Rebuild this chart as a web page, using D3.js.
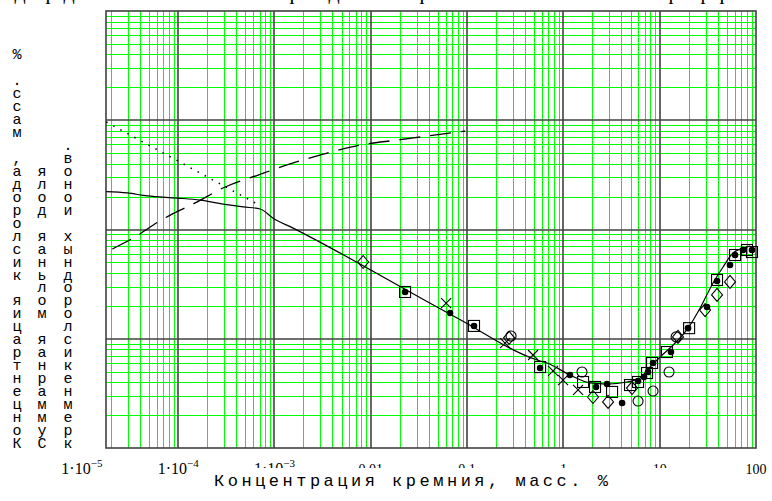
<!DOCTYPE html>
<html>
<head>
<meta charset="utf-8">
<script src="https://cdn.jsdelivr.net/npm/d3@7"></script>
<style>
  body { margin: 0; background: #fff; }
  svg { display: block; }
</style>
</head>
<body>
<svg id="chart" width="772" height="501"></svg>
<script>
// x ticks and their labels
const xTicks = [1e-5, 1e-4, 1e-3, 0.01, 0.1, 1, 10, 100]
const xTickLabels = [['1·10', '−5'], ['1·10', '−4'], ['1·10', '−3'], ['0.01'], ['0.1'], ['1'], ['10'], ['100']]

const xTitle = 'Концентрация кремния, масс. %'
const yTitles = ['Концентрация кислорода, масс. %', 'Суммарная мольная доля', 'кремнекислородных ионов.']

// solid curve
const curveSi = [1.79e-5, 2.96e-5, 4.77e-5, 9.77e-5, 1.69e-4, 2.93e-4, 4.73e-4, 7.10e-4, 9.68e-4, 1.56e-3, 0.0787, 0.533, 0.677, 1.17, 1.89, 2.84, 4.58, 6.25, 7.94, 10.1, 13.8, 19.7, 26.3, 35.8, 45.5, 57.8, 80.8, 86.8]
const curveO = [0.0222, 0.0216, 0.0203, 0.0194, 0.0186, 0.0171, 0.0161, 0.0154, 0.0127, 0.0103, 1.55e-3, 6.39e-4, 6.00e-4, 4.66e-4, 3.94e-4, 3.85e-4, 4.02e-4, 4.37e-4, 5.51e-4, 6.81e-4, 8.77e-4, 1.25e-3, 1.91e-3, 3.24e-3, 4.54e-3, 6.10e-3, 6.92e-3, 7.06e-3]

// dashed curve
const dashSi = [2.07e-5, 3.41e-5, 6.98e-5, 1.50e-4, 3.07e-4, 6.76e-4, 1.45e-3, 3.52e-3, 7.75e-3, 0.0188, 0.0394, 0.0953]
const dashFrac = [6.63e-3, 8.36e-3, 0.0125, 0.0175, 0.0245, 0.0315, 0.0398, 0.0501, 0.0593, 0.0659, 0.0718, 0.0797]

// dotted line
const dotSi = [1.79e-5, 6.29e-4]
const dotO = [0.0964, 0.0175]

// measured points [Si, O]
const diamonds = [[0.00833, 5.04e-3], [0.273, 1.02e-3], [2.03, 2.93e-4], [2.91, 2.64e-4], [5.16, 3.54e-4], [15.5, 1.04e-3], [29.6, 1.83e-3], [39.4, 2.52e-3], [53.7, 3.31e-3]]
const circles = [[0.286, 1.06e-3], [1.56, 4.96e-4], [5.96, 2.69e-4], [8.53, 3.32e-4], [12.5, 4.96e-4], [14.8, 1.04e-3]]
const squares = [[0.0227, 2.68e-3], [0.118, 1.31e-3], [0.573, 5.51e-4], [1.60, 4.02e-4], [2.13, 3.62e-4], [3.20, 3.26e-4], [4.92, 3.77e-4], [5.96, 4.02e-4], [7.39, 4.86e-4], [8.33, 6.00e-4], [11.9, 7.56e-4], [20.2, 1.25e-3], [39.4, 3.45e-3], [60.6, 5.84e-3], [80.7, 6.49e-3], [90.9, 6.22e-3]]
const filled = [[0.0227, 2.68e-3], [0.0666, 1.72e-3], [0.118, 1.31e-3], [0.573, 5.40e-4], [1.17, 4.66e-4], [2.18, 3.62e-4], [2.84, 3.85e-4], [4.07, 2.58e-4], [5.96, 4.10e-4], [6.88, 4.47e-4], [7.57, 4.96e-4], [8.53, 6.00e-4], [13.1, 7.56e-4], [19.7, 1.25e-3], [31.0, 1.95e-3], [39.4, 3.38e-3], [53.7, 4.73e-3], [60.6, 5.84e-3], [73.3, 6.49e-3], [90.9, 6.49e-3]]
const crosses = [[0.0606, 2.12e-3], [0.248, 9.14e-4], [0.484, 7.10e-4], [0.781, 5.07e-4], [0.992, 4.19e-4], [1.42, 3.40e-4]]

const plot = { left: 106, right: 756, top: 11, bottom: 448 }

const svg = d3.select('#chart')

const x = d3.scaleLog().domain([1.78e-5, 100]).range([plot.left, plot.right])
const y = d3.scaleLog().domain([1e-4, 1]).range([plot.bottom, plot.top])

// cut-off line of text above the chart: only the descenders show
const topGlyphs = [['д', 20], ['ф', 48], ['д', 69], ['ф', 292], ['д', 334], ['ф', 422], ['ф', 671], ['ф', 703], ['ф', 722]]
svg.append('g')
    .selectAll('text')
    .data(topGlyphs)
    .join('text')
    .attr('x', d => d[1])
    .attr('y', -1)
    .attr('text-anchor', 'middle')
    .style('font-family', '"Liberation Serif", serif')
    .style('font-size', '22px')
    .text(d => d[0])

// grid
const grid = svg.append('g')
const isDecade = v => Math.abs(Math.log10(v) - Math.round(Math.log10(v))) < 1e-6
const xMinor = x.ticks().filter(v => !isDecade(v))
const yMinor = y.ticks().filter(v => !isDecade(v))
const yMajor = y.ticks().filter(isDecade)

grid.selectAll('.xm')
    .data(xMinor)
    .join('line')
    .attr('x1', d => Math.round(x(d)) + 0.5).attr('x2', d => Math.round(x(d)) + 0.5)
    .attr('y1', plot.top).attr('y2', plot.bottom)
    .attr('stroke', '#00ff00').attr('stroke-width', 1)
grid.selectAll('.ym')
    .data(yMinor)
    .join('line')
    .attr('y1', d => Math.round(y(d)) + 0.5).attr('y2', d => Math.round(y(d)) + 0.5)
    .attr('x1', plot.left).attr('x2', plot.right)
    .attr('stroke', '#00ff00').attr('stroke-width', 1)

grid.selectAll('.xM')
    .data(xTicks.filter(v => x(v) > plot.left + 1 && x(v) < plot.right - 1))
    .join('line')
    .attr('x1', d => Math.round(x(d))).attr('x2', d => Math.round(x(d)))
    .attr('y1', plot.top).attr('y2', plot.bottom)
    .attr('stroke', '#404040').attr('stroke-width', 1.6)
grid.selectAll('.yM')
    .data(yMajor.filter(v => y(v) > plot.top + 1 && y(v) < plot.bottom - 1))
    .join('line')
    .attr('y1', d => Math.round(y(d))).attr('y2', d => Math.round(y(d)))
    .attr('x1', plot.left).attr('x2', plot.right)
    .attr('stroke', '#404040').attr('stroke-width', 1.6)

grid.append('rect')
    .attr('x', plot.left).attr('y', plot.top)
    .attr('width', plot.right - plot.left).attr('height', plot.bottom - plot.top)
    .attr('fill', 'none').attr('stroke', '#404040').attr('stroke-width', 1.6)

// curves
const line = d3.line().x(d => x(d[0])).y(d => y(d[1]))

svg.append('path')
    .datum(curveSi.map((v, i) => [v, curveO[i]]))
    .attr('d', line.curve(d3.curveMonotoneX))
    .attr('fill', 'none').attr('stroke', '#000').attr('stroke-width', 1.2)

svg.append('path')
    .datum(dashSi.map((v, i) => [v, dashFrac[i]]))
    .attr('d', line.curve(d3.curveMonotoneX))
    .attr('fill', 'none').attr('stroke', '#000').attr('stroke-width', 1.3)
    .attr('stroke-dasharray', '21,10')

svg.append('path')
    .datum(dotSi.map((v, i) => [v, dotO[i]]))
    .attr('d', line.curve(d3.curveLinear))
    .attr('fill', 'none').attr('stroke', '#000').attr('stroke-width', 1.5)
    .attr('stroke-dasharray', '1.5,6.5')

// markers
const marks = svg.append('g').attr('fill', 'none').attr('stroke', '#000').attr('stroke-width', 1.1)

marks.selectAll('.dia')
    .data(diamonds)
    .join('path')
    .attr('d', d => {
        const cx = x(d[0]), cy = y(d[1])
        return `M${cx},${cy - 6.5}L${cx + 5.5},${cy}L${cx},${cy + 6.5}L${cx - 5.5},${cy}Z`
    })

marks.selectAll('.cir')
    .data(circles)
    .join('circle')
    .attr('cx', d => x(d[0])).attr('cy', d => y(d[1])).attr('r', 5)

marks.selectAll('.sq')
    .data(squares)
    .join('rect')
    .attr('x', d => x(d[0]) - 5.5).attr('y', d => y(d[1]) - 5.5)
    .attr('width', 11).attr('height', 11)

marks.selectAll('.cr')
    .data(crosses)
    .join('path')
    .attr('d', d => {
        const cx = x(d[0]), cy = y(d[1])
        return `M${cx - 5},${cy - 5}L${cx + 5},${cy + 5}M${cx + 5},${cy - 5}L${cx - 5},${cy + 5}`
    })

svg.append('g')
    .selectAll('circle')
    .data(filled)
    .join('circle')
    .attr('cx', d => x(d[0])).attr('cy', d => y(d[1])).attr('r', 3.3)
    .attr('fill', '#000')

// tick labels
const labels = svg.append('g')
    .style('font-family', '"Liberation Serif", "Times New Roman", serif')
labels.selectAll('text')
    .data(xTicks)
    .join('text')
    .attr('x', d => x(d))
    .attr('y', 474)
    .attr('text-anchor', 'middle')
    .style('font-size', (d, i) => xTickLabels[i].length > 1 ? '16px' : '14px')
    .each(function (d, i) {
        const t = d3.select(this)
        t.append('tspan').text(xTickLabels[i][0])
        if (xTickLabels[i].length > 1)
            t.append('tspan').attr('dy', -7).style('font-size', '11px').text(xTickLabels[i][1])
    })

// white box under the axis title hides the lower half of the middle labels
svg.append('rect')
    .attr('x', 215).attr('y', 468).attr('width', 490).attr('height', 33)
    .attr('fill', '#fff')

svg.append('text')
    .attr('x', 214)
    .attr('y', 486)
    .style('font-family', '"Liberation Mono", "Courier New", monospace')
    .style('font-size', '17px')
    .style('letter-spacing', '3.5px')
    .text(xTitle)

// y title: stacked letters, read from bottom to top
const yCols = [17, 42, 68]
yTitles.forEach((title, c) => {
    svg.append('g')
        .selectAll('text')
        .data(Array.from(title))
        .join('text')
        .attr('x', yCols[c])
        .attr('y', (d, i) => 448 - i * 12.96)
        .attr('text-anchor', 'middle')
        .style('font-family', '"Liberation Mono", "Courier New", monospace')
        .style('font-size', '15px')
        .text(d => d)
})
</script>
</body>
</html>
